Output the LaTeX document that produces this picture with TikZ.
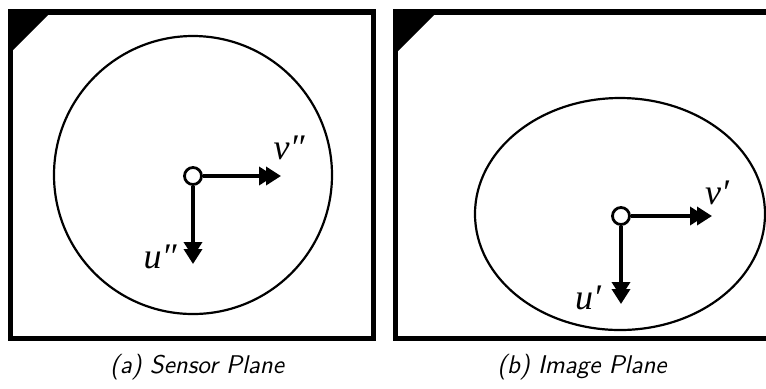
\documentclass[tikz,border=0pt]{standalone}
\usepackage{fontspec}
\newfontfamily\labelfont{Liberation Serif}
\usetikzlibrary{arrows.meta}

\tikzset{
  frame/.style={line width=2.6pt},
  lens/.style={line width=1.1pt},
  axis/.style={line width=1.8pt, -{Triangle[length=7.5pt,width=9pt,sep=-4pt]Triangle[length=7.5pt,width=9pt]}},
  origin/.style={circle, draw, line width=1.4pt, fill=white, inner sep=0pt, minimum size=8.5pt},
  axlabel/.style={font=\fontsize{18}{18}\labelfont\itshape, inner sep=0pt},
  caption/.style={font=\fontsize{12.8}{14}\sffamily\itshape, inner sep=0pt}
}

\begin{document}
\begin{tikzpicture}[x=0.5pt, y=-0.5pt]

  \useasboundingbox (0, 0) rectangle (766, 388);

  % Marcos de los dos planos
  \draw[frame] (10.5, 12) rectangle (373.5, 338.5);
  \begin{scope}
    \clip (380, 0) rectangle (766, 388);
    \draw[frame] (395.5, 12) rectangle (775, 338.5);
  \end{scope}

  % Esquinas negras
  \fill (8, 9) -- (54, 9) -- (8, 55) -- cycle;
  \fill (393, 9) -- (440, 9) -- (393, 56) -- cycle;

  % (a) plano del sensor: circulo
  \draw[lens] (193, 175) circle (139);
  \node[origin] (o1) at (193, 176) {};
  \coordinate (v1) at (281, 176);
  \coordinate (u1) at (193, 264);
  \draw[axis] (o1) -- (v1);
  \draw[axis] (o1) -- (u1);
  \node[axlabel] (lv1) at (289, 148) {v″};
  \node[axlabel] (lu1) at (160, 257) {u″};

  % (b) plano de la imagen: elipse
  \draw[lens] (620, 214) ellipse (145 and 116);
  \node[origin] (o2) at (621, 216) {};
  \coordinate (v2) at (712, 216);
  \coordinate (u2) at (621, 304);
  \draw[axis] (o2) -- (v2);
  \draw[axis] (o2) -- (u2);
  \node[axlabel] (lv2) at (717, 193) {v′};
  \node[axlabel] (lu2) at (588, 298) {u′};

  % Leyendas
  \node[caption] (capa) at (197, 367) {(a) Sensor Plane};
  \node[caption] (capb) at (582, 367) {(b) Image Plane};

\end{tikzpicture}
\end{document}
